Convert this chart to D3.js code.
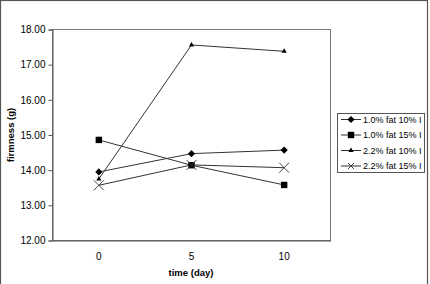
<!DOCTYPE html>
<html>
<head>
<meta charset="utf-8">
<script src="https://cdn.jsdelivr.net/npm/d3@7"></script>
<style>
  body { margin: 0; background: #fff; }
  svg text { font-family: "Liberation Sans", Arial, sans-serif; fill: #000; }
</style>
</head>
<body>
<div id="chart"></div>
<script>
// data
var days = ["0", "5", "10"];
var seriesNames = ["1.0% fat 10% I", "1.0% fat 15% I", "2.2% fat 10% I", "2.2% fat 15% I"];
var fat10a = [13.95, 14.47, 14.57];
var fat15a = [14.86, 14.14, 13.58];
var fat10b = [13.75, 17.56, 17.38];
var fat15b = [13.57, 14.15, 14.07];
var yTicks = [12, 13, 14, 15, 16, 17, 18];

var allSeries = [fat10a, fat15a, fat10b, fat15b];
var markers = ["diamond", "square", "triangle", "cross"];

var width = 430, height = 284;
var plot = { left: 52.5, top: 29.5, right: 330.5, bottom: 240.5 };

var svg = d3.select("#chart").append("svg")
  .attr("width", width)
  .attr("height", height);

// outer frame
svg.append("rect")
  .attr("x", 0.5).attr("y", 0.5)
  .attr("width", 427).attr("height", 300)
  .attr("fill", "none")
  .attr("stroke", "#555")
  .attr("stroke-width", 1.2);

var x = d3.scaleBand().domain(days).range([plot.left, plot.right]);
var y = d3.scaleLinear().domain([12, 18]).range([plot.bottom, plot.top]);

// plot area border
svg.append("rect")
  .attr("x", plot.left).attr("y", plot.top)
  .attr("width", plot.right - plot.left)
  .attr("height", plot.bottom - plot.top)
  .attr("fill", "none")
  .attr("stroke", "#7a7a7a")
  .attr("stroke-width", 1);

// y axis
var yAxis = svg.append("g")
  .attr("transform", "translate(" + plot.left + ",0)")
  .call(d3.axisLeft(y).tickValues(yTicks).tickSize(4).tickPadding(3)
    .tickFormat(d3.format(".2f")));
yAxis.select(".domain").attr("stroke", "#555");
yAxis.selectAll("line").attr("stroke", "#555");
yAxis.selectAll("text").attr("font-size", "10px").attr("fill", "#222");

// x axis
var xAxis = svg.append("g")
  .attr("transform", "translate(0," + plot.bottom + ")")
  .call(d3.axisBottom(x).tickSize(0).tickPadding(12));
xAxis.select(".domain").attr("stroke", "#555");
xAxis.selectAll("text").attr("font-size", "10px").attr("fill", "#222");

// axis titles
svg.append("text")
  .attr("x", 191).attr("y", 276)
  .attr("text-anchor", "middle")
  .attr("font-size", "9.5px")
  .attr("font-weight", "bold")
  .text("time (day)");

svg.append("text")
  .attr("transform", "translate(14,135) rotate(-90)")
  .attr("text-anchor", "middle")
  .attr("font-size", "9.5px")
  .attr("font-weight", "bold")
  .text("firmness (g)");

// marker drawing
function drawMarker(g, type, cx, cy, crossSize) {
  if (type === "diamond") {
    var r = 3.6;
    g.append("path")
      .attr("d", "M" + cx + "," + (cy - r) + "L" + (cx + r) + "," + cy +
        "L" + cx + "," + (cy + r) + "L" + (cx - r) + "," + cy + "Z")
      .attr("fill", "#000");
  } else if (type === "square") {
    g.append("rect")
      .attr("x", cx - 3.2).attr("y", cy - 3.2)
      .attr("width", 6.4).attr("height", 6.4)
      .attr("fill", "#000");
  } else if (type === "triangle") {
    g.append("path")
      .attr("d", d3.symbol().type(d3.symbolTriangle).size(12)())
      .attr("transform", "translate(" + cx + "," + cy + ")")
      .attr("fill", "#000");
  } else {
    var s = crossSize || 5;
    g.append("path")
      .attr("d", "M" + (cx - s) + "," + (cy - s) + "L" + (cx + s) + "," + (cy + s) +
        "M" + (cx - s) + "," + (cy + s) + "L" + (cx + s) + "," + (cy - s))
      .attr("stroke", "#333")
      .attr("stroke-width", 0.9)
      .attr("fill", "none");
  }
}

var line = d3.line()
  .x(function (d, i) { return x(days[i]) + x.bandwidth() / 2; })
  .y(function (d) { return y(d); });

var lines = svg.append("g");
allSeries.forEach(function (s) {
  lines.append("path")
    .attr("d", line(s))
    .attr("fill", "none")
    .attr("stroke", "#333")
    .attr("stroke-width", 1);
});

var marks = svg.append("g");
allSeries.forEach(function (s, k) {
  s.forEach(function (v, i) {
    drawMarker(marks, markers[k], x(days[i]) + x.bandwidth() / 2, y(v));
  });
});

// legend
var legend = svg.append("g");
legend.append("rect")
  .attr("x", 337.5).attr("y", 113.5)
  .attr("width", 87).attr("height", 59)
  .attr("fill", "#fff")
  .attr("stroke", "#555")
  .attr("stroke-width", 1);

seriesNames.forEach(function (name, k) {
  var ly = 119.5 + k * 15.5;
  legend.append("line")
    .attr("x1", 341).attr("x2", 361)
    .attr("y1", ly).attr("y2", ly)
    .attr("stroke", "#333")
    .attr("stroke-width", 1);
  drawMarker(legend, markers[k], 351, ly, 3);
  legend.append("text")
    .attr("x", 363).attr("y", ly + 3.3)
    .attr("font-size", "9px")
    .attr("fill", "#222")
    .text(name);
});
</script>
</body>
</html>
